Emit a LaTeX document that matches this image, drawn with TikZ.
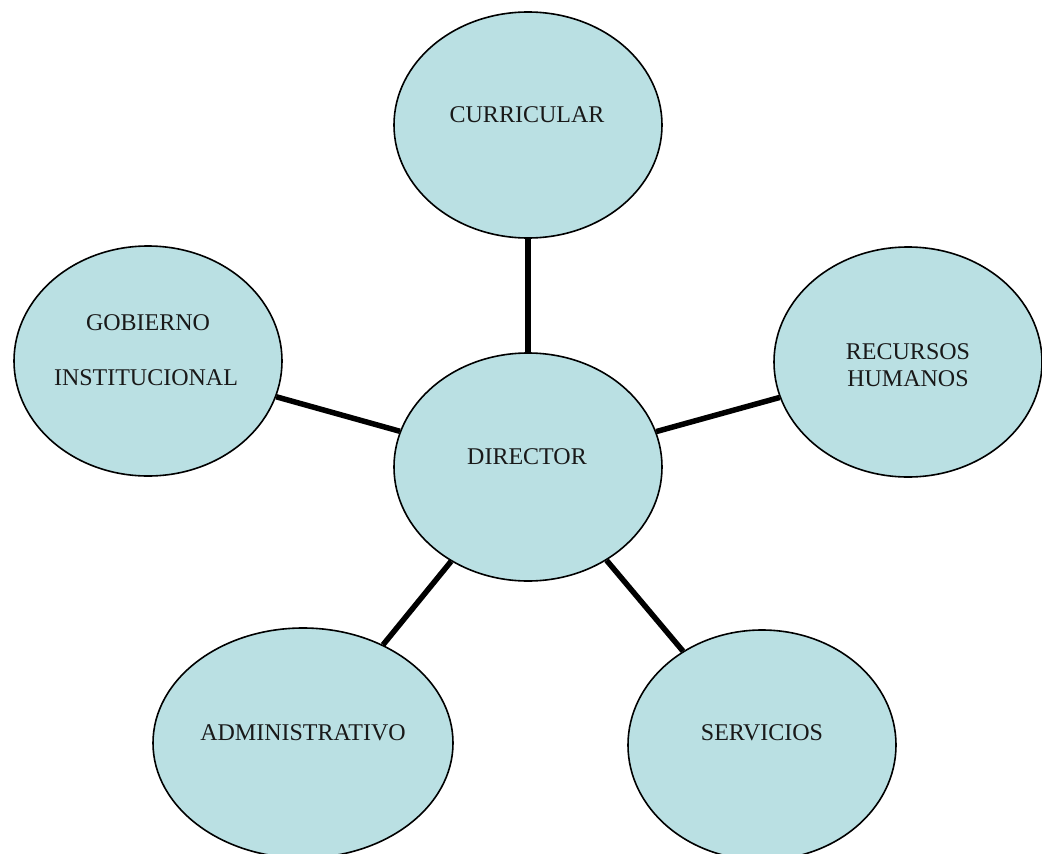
\documentclass[tikz,border=0pt]{standalone}
\usepackage{fontspec}
\setmainfont{Liberation Serif}
\usetikzlibrary{shapes.geometric,backgrounds}
\definecolor{bubble}{RGB}{186,224,227}
\tikzset{
  bubble/.style={ellipse, draw=black, line width=1.6pt, fill=bubble, inner sep=0pt,
                 minimum width=268pt, minimum height=230pt},
  lbl/.style={font=\fontsize{24}{27}\selectfont, inner sep=0pt, align=center, text=black!90},
  link/.style={line width=5.5pt, draw=black}
}
\begin{document}
\begin{tikzpicture}[x=1pt,y=-1pt]
\useasboundingbox (0,0) rectangle (1042,854);
\node[bubble, minimum height=226pt] (cur) at (528,125) {};
\node[bubble] (gob) at (148,361) {};
\node[bubble] (rec) at (908,362) {};
\node[bubble, minimum height=228pt] (dir) at (528,467) {};
\node[bubble, minimum width=300pt] (adm) at (303,743) {};
\node[bubble] (ser) at (762,745) {};
\begin{pgfonlayer}{background}
\draw[link] (dir) -- (cur);
\draw[link] (dir) -- (gob);
\draw[link] (dir) -- (rec);
\draw[link] (dir) -- (adm);
\draw[link] (dir) -- (ser);
\end{pgfonlayer}
\node[lbl] (tcur) at (527,115) {CURRICULAR};
\node[lbl] (tgob1) at (148,323) {GOBIERNO};
\node[lbl] (tgob2) at (146,378) {INSTITUCIONAL};
\node[lbl] (trec) at (908,365) {RECURSOS\\HUMANOS};
\node[lbl] (tdir) at (527,457) {DIRECTOR};
\node[lbl] (tadm) at (303,733) {ADMINISTRATIVO};
\node[lbl] (tser) at (762,733) {SERVICIOS};
\end{tikzpicture}
\end{document}
